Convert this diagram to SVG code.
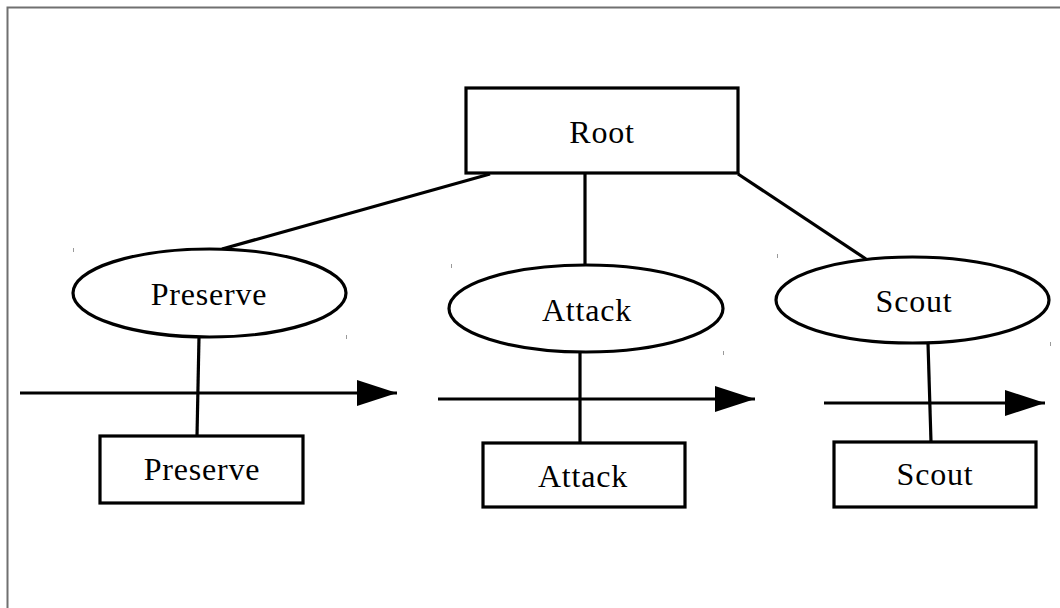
<svg xmlns="http://www.w3.org/2000/svg" width="1060" height="608" viewBox="0 0 1060 608">
  <style>
    .shape { fill: #ffffff; stroke: #000000; stroke-width: 3.2; }
    .link { stroke: #000000; stroke-width: 3.2; fill: none; }
    .label { font-family: "Liberation Serif", "Times New Roman", serif; font-size: 32px; letter-spacing: 0.8px; fill: #000000; text-anchor: middle; }
    .tick { stroke: #9a9a9a; stroke-width: 1; }
    .frame { stroke: #707070; stroke-width: 2; fill: none; }
  </style>
  <defs>
    <marker id="arrow" markerUnits="userSpaceOnUse" markerWidth="40" markerHeight="26" refX="40" refY="13" orient="auto">
      <path d="M0,0 L40,13 L0,26 Z" fill="#000000"/>
    </marker>
  </defs>
  <rect width="1060" height="608" fill="#ffffff"/>
  <path class="frame" d="M7.5,608 L7.5,7.5 L1060,7.5"/>

  <g id="connectors">
    <line class="link" x1="490" y1="174" x2="222" y2="249"/>
    <line class="link" x1="585" y1="174" x2="585" y2="265"/>
    <line class="link" x1="738" y1="174" x2="866" y2="259"/>
    <line class="link" x1="199" y1="337" x2="197" y2="436"/>
    <line class="link" x1="580" y1="352" x2="580" y2="443"/>
    <line class="link" x1="928" y1="343" x2="931" y2="442"/>
    <line class="link" x1="20" y1="393" x2="397" y2="393" marker-end="url(#arrow)"/>
    <line class="link" x1="438" y1="399" x2="755" y2="399" marker-end="url(#arrow)"/>
    <line class="link" x1="824" y1="403" x2="1045" y2="403" marker-end="url(#arrow)"/>
  </g>

  <g id="ticks">
    <line class="tick" x1="73.5" y1="248" x2="73.5" y2="252"/>
    <line class="tick" x1="346.5" y1="335" x2="346.5" y2="339"/>
    <line class="tick" x1="451.5" y1="264" x2="451.5" y2="268"/>
    <line class="tick" x1="723.5" y1="351" x2="723.5" y2="355"/>
    <line class="tick" x1="777.5" y1="254" x2="777.5" y2="258"/>
    <line class="tick" x1="1050.5" y1="342" x2="1050.5" y2="346"/>
  </g>

  <g id="root">
    <rect class="shape" x="466" y="88" width="272" height="85"/>
    <text class="label" x="602" y="143">Root</text>
  </g>

  <g id="preserve-ellipse">
    <ellipse class="shape" cx="209.5" cy="293" rx="136.5" ry="44"/>
    <text class="label" x="209" y="305">Preserve</text>
  </g>
  <g id="attack-ellipse">
    <ellipse class="shape" cx="586" cy="308.5" rx="137" ry="43.5"/>
    <text class="label" x="587" y="321">Attack</text>
  </g>
  <g id="scout-ellipse">
    <ellipse class="shape" cx="912.5" cy="300" rx="136.5" ry="43"/>
    <text class="label" x="914" y="312">Scout</text>
  </g>

  <g id="preserve-box">
    <rect class="shape" x="100" y="436" width="203" height="67"/>
    <text class="label" x="202" y="480">Preserve</text>
  </g>
  <g id="attack-box">
    <rect class="shape" x="483" y="443" width="202" height="64"/>
    <text class="label" x="583" y="487">Attack</text>
  </g>
  <g id="scout-box">
    <rect class="shape" x="834" y="442" width="202" height="65"/>
    <text class="label" x="935" y="485">Scout</text>
  </g>
</svg>
